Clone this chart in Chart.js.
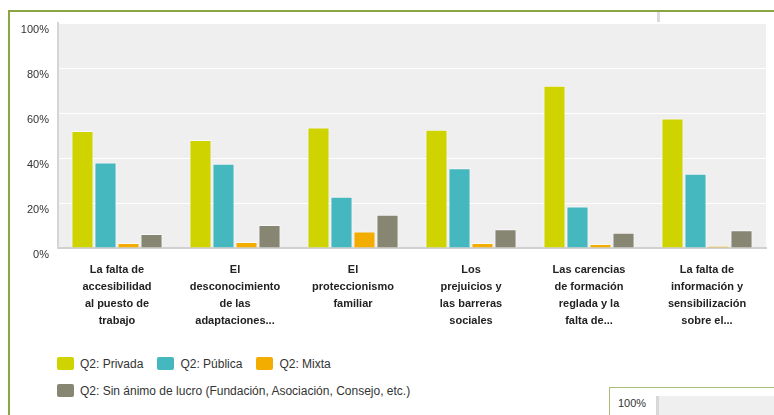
<!DOCTYPE html>
<html lang="es">
<head>
  <meta charset="UTF-8"/>
  <title>Q2 barreras</title>
  <script src="https://cdn.jsdelivr.net/npm/chart.js"></script>
  <style>
    body { margin: 0; width: 774px; height: 415px; overflow: hidden; background: #fff; font-family: "Liberation Sans", Arial, sans-serif; position: relative; }
    #wrap { position: absolute; left: 0; top: 0; width: 774px; height: 350px; }
    .frame-left { position: absolute; left: 8px; top: 10px; width: 2px; height: 405px; background: #8ba446; }
    .frame-top { position: absolute; left: 8px; top: 10px; width: 766px; height: 2px; background: #8ba446; }
    .stub { position: absolute; left: 657px; top: 12px; width: 3px; height: 10px; background: #dcdcdc; }
    #legend { position: absolute; left: 57px; top: 356px; font-size: 12px; color: #333; }
    .row { display: flex; align-items: center; height: 15px; margin-bottom: 12px; }
    .item { display: flex; align-items: center; margin-right: 14px; }
    .box { width: 17px; height: 13px; border-radius: 2px; margin-right: 6px; }
    .next { position: absolute; left: 609px; top: 387px; width: 170px; height: 40px; border-left: 1px solid #a9bd75; border-top: 1px solid #a9bd75; }
    .next span { position: absolute; left: 8px; top: 9px; font-size: 11px; color: #333; }
    .next .ax { position: absolute; left: 46px; top: 8px; width: 3px; height: 30px; background: #d8d8d8; }
    .next .bg { position: absolute; left: 49px; top: 8px; width: 130px; height: 30px; background: #efefef; }
  </style>
</head>
<body>
  <div class="frame-left"></div>
  <div class="frame-top"></div>
  <div class="stub"></div>
  <div id="wrap"><canvas id="chart" width="774" height="350"></canvas></div>
  <div id="legend"></div>
  <div class="next"><div class="bg"></div><div class="ax"></div><span>100%</span></div>

  <script>
    const categories = [
      ['La falta de', 'accesibilidad', 'al puesto de', 'trabajo'],
      ['El', 'desconocimiento', 'de las', 'adaptaciones...'],
      ['El', 'proteccionismo', 'familiar'],
      ['Los', 'prejuicios y', 'las barreras', 'sociales'],
      ['Las carencias', 'de formación', 'reglada y la', 'falta de...'],
      ['La falta de', 'información y', 'sensibilización', 'sobre el...']
    ]
    const seriesNames = ['Q2: Privada', 'Q2: Pública', 'Q2: Mixta', 'Q2: Sin ánimo de lucro (Fundación, Asociación, Consejo, etc.)']
    const privada = [52, 48, 53.6, 52.6, 72.1, 57.6]
    const publica = [38, 37.5, 22.8, 35.4, 18.4, 33]
    const mixta = [2.2, 2.7, 7.3, 2.2, 1.8, 0.9]
    const sinAnimo = [6.2, 10.2, 14.8, 8.3, 6.8, 7.9]
    const yTicks = [0, 20, 40, 60, 80, 100]
    const colors = ['#cfd400', '#45b7bf', '#f2ad00', '#878673']

    const plotBg = {
      id: 'plotBg',
      beforeDraw(chart) {
        const { ctx, chartArea: a } = chart
        ctx.save()
        ctx.fillStyle = '#efefef'
        ctx.fillRect(a.left, a.top, a.right - a.left, a.bottom - a.top)
        ctx.restore()
      }
    }

    const values = [privada, publica, mixta, sinAnimo]
    const datasets = values.map((d, i) => ({
      label: seriesNames[i],
      data: d,
      backgroundColor: colors[i],
      borderColor: 'rgba(255,255,255,0.55)',
      borderWidth: 1,
      categoryPercentage: 0.78,
      barPercentage: 0.96
    }))

    new Chart(document.getElementById('chart'), {
      type: 'bar',
      data: { labels: categories, datasets },
      plugins: [plotBg],
      options: {
        responsive: false,
        animation: false,
        layout: { padding: { top: 23, right: 8, left: 0, bottom: 0 } },
        plugins: { legend: { display: false }, tooltip: { enabled: false } },
        scales: {
          x: {
            grid: { display: false, drawTicks: false },
            border: { color: '#d0d0d0', width: 2 },
            ticks: {
              color: '#222',
              font: { family: 'Liberation Sans', size: 11, weight: 'bold', lineHeight: 1.55 },
              padding: 13,
              maxRotation: 0,
              autoSkip: false
            },
            afterFit(s) { s.height = 102 }
          },
          y: {
            min: 0,
            max: 100,
            afterBuildTicks(s) { s.ticks = yTicks.map(v => ({ value: v })) },
            grid: { color: '#ffffff', lineWidth: 1, drawTicks: false },
            border: { color: '#d5d5d5', width: 2 },
            ticks: {
              color: '#333',
              font: { family: 'Liberation Sans', size: 11 },
              padding: 9,
              labelOffset: 7,
              callback: v => v + '%'
            },
            afterFit(s) { s.width = 58 }
          }
        }
      }
    })

    // legend, two rows like the original
    const legend = document.getElementById('legend')
    const rows = [[0, 1, 2], [3]]
    rows.forEach(r => {
      const row = document.createElement('div')
      row.className = 'row'
      r.forEach(i => {
        const it = document.createElement('div')
        it.className = 'item'
        it.innerHTML = `<div class="box" style="background:${colors[i]}"></div><span>${seriesNames[i]}</span>`
        row.appendChild(it)
      })
      legend.appendChild(row)
    })
  </script>
</body>
</html>
